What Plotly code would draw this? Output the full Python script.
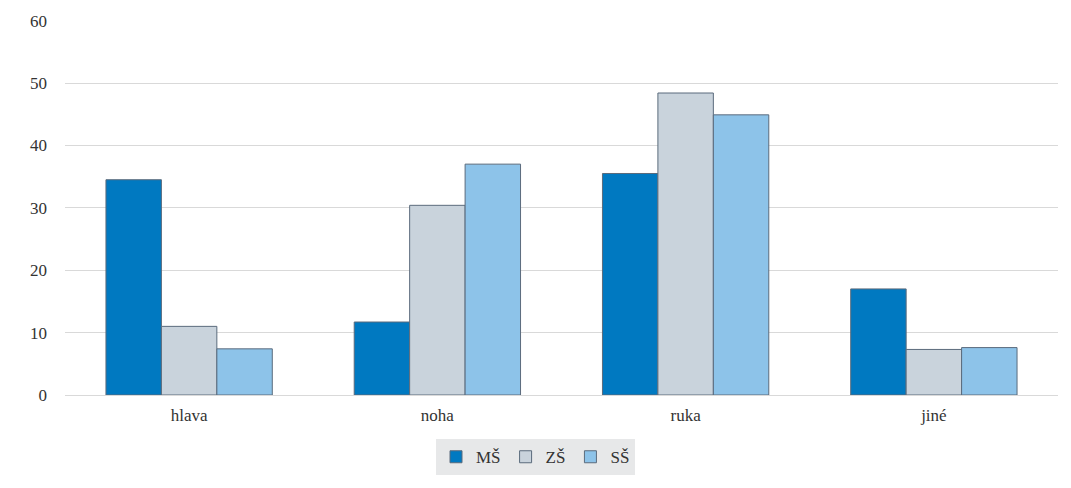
import plotly.graph_objects as go

categories = ["hlava", "noha", "ruka", "jiné"]
ms = [34.5, 11.7, 35.5, 17.0]
zs = [11.0, 30.4, 48.4, 7.3]
ss = [7.4, 37.0, 44.9, 7.6]
series_names = ["MŠ", "ZŠ", "SŠ"]
colors = ["#0079C1", "#C9D3DC", "#8DC3E9"]

fig = go.Figure()
for name, vals, col in zip(series_names, [ms, zs, ss], colors):
    fig.add_trace(go.Bar(x=categories, y=vals, name=name,
                         marker=dict(color=col, line=dict(color="#5B6B7C", width=1))))

fig.update_layout(
    width=1071, height=488,
    margin=dict(l=65, r=13, t=20, b=93, autoexpand=False),
    paper_bgcolor="white", plot_bgcolor="white",
    barmode="group", bargap=0.33, bargroupgap=0,
    font=dict(family="Liberation Serif", size=17, color="#333333"),
    xaxis=dict(showgrid=False, showline=False, ticks="", tickfont=dict(size=17),
               ticklabelstandoff=8, automargin=False),
    yaxis=dict(range=[0, 60.1], tickvals=[0, 10, 20, 30, 40, 50, 60],
               showgrid=True, gridcolor="#D9D9D9", gridwidth=1,
               zeroline=True, zerolinecolor="#D9D9D9", zerolinewidth=1,
               showline=False, ticks="", ticklabelstandoff=17, tickfont=dict(size=17),
               automargin=False),
    legend=dict(orientation="h", x=0.5, xanchor="center", xref="container",
                y=0.1, yanchor="top", yref="container",
                bgcolor="#E7E8E9", font=dict(size=17), itemwidth=30,
                traceorder="normal"),
    showlegend=True,
)

fig.write_html("out.html")
